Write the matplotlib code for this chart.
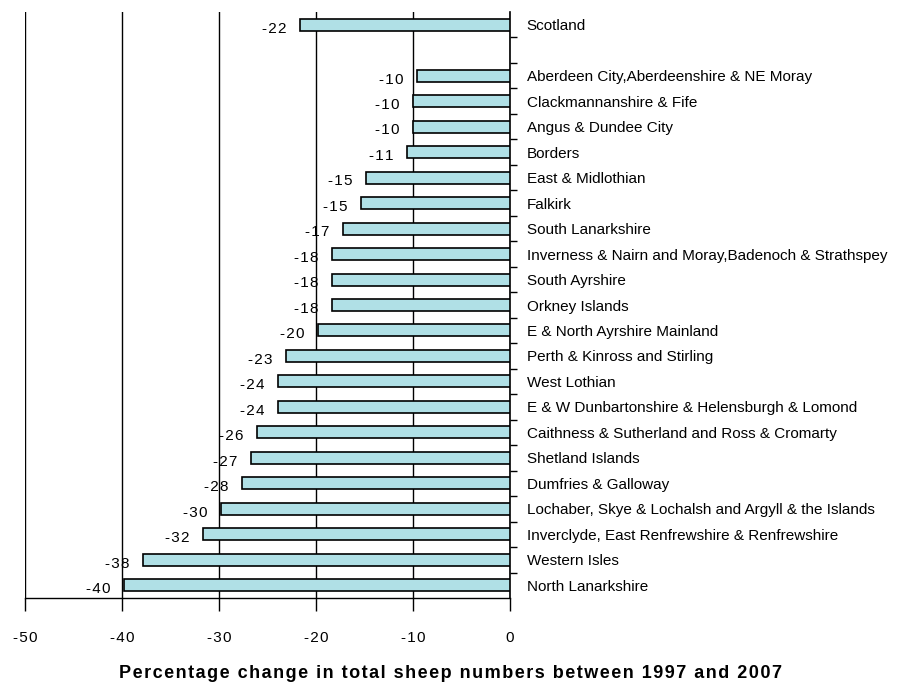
import matplotlib.pyplot as plt
import numpy as np

plt.rcParams['font.family'] = ['Liberation Sans', 'DejaVu Sans']

# areas from top to bottom; "" leaves an empty row under Scotland
areas = ["Scotland", "",
         "Aberdeen City,Aberdeenshire & NE Moray",
         "Clackmannanshire & Fife",
         "Angus & Dundee City",
         "Borders",
         "East & Midlothian",
         "Falkirk",
         "South Lanarkshire",
         "Inverness & Nairn and Moray,Badenoch & Strathspey",
         "South Ayrshire",
         "Orkney Islands",
         "E & North Ayrshire Mainland",
         "Perth & Kinross and Stirling",
         "West Lothian",
         "E & W Dunbartonshire & Helensburgh & Lomond",
         "Caithness & Sutherland and Ross & Cromarty",
         "Shetland Islands",
         "Dumfries & Galloway",
         "Lochaber, Skye & Lochalsh and Argyll & the Islands",
         "Inverclyde, East Renfrewshire & Renfrewshire",
         "Western Isles",
         "North Lanarkshire"]
change = [-21.6, None, -9.6, -10.0, -10.0, -10.6, -14.8, -15.4, -17.2, -18.3,
          -18.3, -18.3, -19.8, -23.1, -23.9, -23.9, -26.1, -26.7, -27.6,
          -29.8, -31.6, -37.8, -39.8]
xticks = [-50, -40, -30, -20, -10, 0]


def spaced(s):
    # loose letter spacing using hair spaces
    return "\u200a".join(s)


fig = plt.figure(figsize=(9.01, 6.86), dpi=100)
ax = fig.add_axes([25 / 901, 1 - 598 / 686, 485 / 901, 586 / 686])

ypos = np.arange(len(areas))
for y, v in zip(ypos, change):
    if v is None:
        continue
    ax.barh(y, v, height=0.47, color="#b0e0e6", edgecolor="black", linewidth=1.2, zorder=3)
    ax.text(v - 1.4, y + 0.15, spaced("%.0f" % v), ha="right", va="center", fontsize=11, zorder=4)

ax.set_xlim(-50, 0)
ax.set_ylim(len(areas) - 0.5, -0.5)
ax.set_xticks(xticks)
ax.set_xticklabels([spaced(str(t)) for t in xticks], fontsize=11)
ax.tick_params(axis="x", direction="out", length=9, width=1, pad=15)
ax.xaxis.grid(True, color="black", linewidth=1)

ax.yaxis.tick_right()
ax.set_yticks(ypos)
ax.set_yticklabels(areas, fontsize=11)
ax.tick_params(axis="y", which="major", length=0, pad=12)
ax.set_yticks(ypos[:-1] + 0.5, minor=True)
ax.tick_params(axis="y", which="minor", length=5, width=1, direction="out")

for s in ["top", "left"]:
    ax.spines[s].set_visible(False)
ax.spines["right"].set_linewidth(1.2)
ax.spines["bottom"].set_linewidth(1)
ax.set_axisbelow(True)

fig.text(0.5, 1 - 673 / 686, spaced("Percentage change in total sheep numbers between 1997 and 2007"),
         ha="center", va="center", fontsize=13, fontweight="bold")

fig.savefig("out.png", dpi=100)
